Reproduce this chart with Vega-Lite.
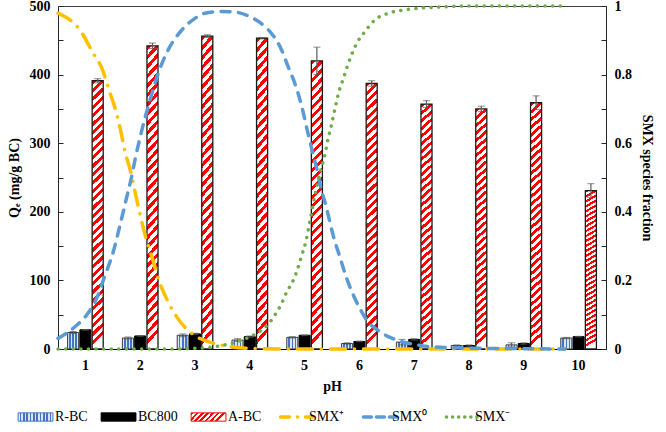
{
  "$schema": "https://vega.github.io/schema/vega-lite/v6.json",
  "width": 548,
  "height": 343,
  "autosize": "none",
  "padding": {"left": 58, "top": 6, "right": 60, "bottom": 83},
  "config": {
    "font": "Liberation Serif",
    "view": {"stroke": "#404040", "strokeWidth": 1},
    "axis": {
      "labelFont": "Liberation Serif", "titleFont": "Liberation Serif",
      "labelFontWeight": "bold", "titleFontWeight": "bold",
      "labelFontSize": 14, "titleFontSize": 14,
      "labelColor": "#000000", "titleColor": "#000000",
      "domainColor": "#262626", "tickColor": "#262626", "grid": false
    }
  },
  "params": [
    {"name": "gRB", "expr": "{gradient:'linear',x1:0,y1:0,x2:1,y2:0,stops:[{offset:0,color:'#DCE6F2'},{offset:0.047619,color:'#DCE6F2'},{offset:0.047619,color:'#4472C4'},{offset:0.095238,color:'#4472C4'},{offset:0.095238,color:'#DCE6F2'},{offset:0.142857,color:'#DCE6F2'},{offset:0.142857,color:'#4472C4'},{offset:0.190476,color:'#4472C4'},{offset:0.190476,color:'#DCE6F2'},{offset:0.238095,color:'#DCE6F2'},{offset:0.238095,color:'#4472C4'},{offset:0.285714,color:'#4472C4'},{offset:0.285714,color:'#DCE6F2'},{offset:0.333333,color:'#DCE6F2'},{offset:0.333333,color:'#4472C4'},{offset:0.380952,color:'#4472C4'},{offset:0.380952,color:'#DCE6F2'},{offset:0.428571,color:'#DCE6F2'},{offset:0.428571,color:'#4472C4'},{offset:0.47619,color:'#4472C4'},{offset:0.47619,color:'#DCE6F2'},{offset:0.52381,color:'#DCE6F2'},{offset:0.52381,color:'#4472C4'},{offset:0.571429,color:'#4472C4'},{offset:0.571429,color:'#DCE6F2'},{offset:0.619048,color:'#DCE6F2'},{offset:0.619048,color:'#4472C4'},{offset:0.666667,color:'#4472C4'},{offset:0.666667,color:'#DCE6F2'},{offset:0.714286,color:'#DCE6F2'},{offset:0.714286,color:'#4472C4'},{offset:0.761905,color:'#4472C4'},{offset:0.761905,color:'#DCE6F2'},{offset:0.809524,color:'#DCE6F2'},{offset:0.809524,color:'#4472C4'},{offset:0.857143,color:'#4472C4'},{offset:0.857143,color:'#DCE6F2'},{offset:0.904762,color:'#DCE6F2'},{offset:0.904762,color:'#4472C4'},{offset:0.952381,color:'#4472C4'},{offset:0.952381,color:'#DCE6F2'},{offset:1,color:'#DCE6F2'}]}"},
    {"name": "gAB", "expr": "{gradient:'linear',x1:0,y1:0,x2:1,y2:0.23,stops:[{offset:0,color:'#ff0000'},{offset:0.071429,color:'#ff0000'},{offset:0.071429,color:'#ffffff'},{offset:0.142857,color:'#ffffff'},{offset:0.142857,color:'#ff0000'},{offset:0.214286,color:'#ff0000'},{offset:0.214286,color:'#ffffff'},{offset:0.285714,color:'#ffffff'},{offset:0.285714,color:'#ff0000'},{offset:0.357143,color:'#ff0000'},{offset:0.357143,color:'#ffffff'},{offset:0.428571,color:'#ffffff'},{offset:0.428571,color:'#ff0000'},{offset:0.5,color:'#ff0000'},{offset:0.5,color:'#ffffff'},{offset:0.571429,color:'#ffffff'},{offset:0.571429,color:'#ff0000'},{offset:0.642857,color:'#ff0000'},{offset:0.642857,color:'#ffffff'},{offset:0.714286,color:'#ffffff'},{offset:0.714286,color:'#ff0000'},{offset:0.785714,color:'#ff0000'},{offset:0.785714,color:'#ffffff'},{offset:0.857143,color:'#ffffff'},{offset:0.857143,color:'#ff0000'},{offset:0.928571,color:'#ff0000'},{offset:0.928571,color:'#ffffff'},{offset:1,color:'#ffffff'}]}"}
  ],
  "datasets": {
    "bars": [
      {"pH": 1, "s": "R-BC", "v": 24, "e": 1.5}, {"pH": 1, "s": "BC800", "v": 28, "e": 0.5}, {"pH": 1, "s": "A-BC", "v": 391, "e": 3},
      {"pH": 2, "s": "R-BC", "v": 16, "e": 1.5}, {"pH": 2, "s": "BC800", "v": 19, "e": 0.5}, {"pH": 2, "s": "A-BC", "v": 442, "e": 4},
      {"pH": 3, "s": "R-BC", "v": 20, "e": 2}, {"pH": 3, "s": "BC800", "v": 22, "e": 1}, {"pH": 3, "s": "A-BC", "v": 456, "e": 2},
      {"pH": 4, "s": "R-BC", "v": 13, "e": 2}, {"pH": 4, "s": "BC800", "v": 18, "e": 1}, {"pH": 4, "s": "A-BC", "v": 453, "e": 1},
      {"pH": 5, "s": "R-BC", "v": 17, "e": 1}, {"pH": 5, "s": "BC800", "v": 20, "e": 0.5}, {"pH": 5, "s": "A-BC", "v": 420, "e": 20},
      {"pH": 6, "s": "R-BC", "v": 8, "e": 1}, {"pH": 6, "s": "BC800", "v": 11, "e": 0.5}, {"pH": 6, "s": "A-BC", "v": 387, "e": 4},
      {"pH": 7, "s": "R-BC", "v": 10, "e": 4}, {"pH": 7, "s": "BC800", "v": 14, "e": 1}, {"pH": 7, "s": "A-BC", "v": 357, "e": 5},
      {"pH": 8, "s": "R-BC", "v": 5, "e": 1}, {"pH": 8, "s": "BC800", "v": 5, "e": 1}, {"pH": 8, "s": "A-BC", "v": 350, "e": 4},
      {"pH": 9, "s": "R-BC", "v": 6, "e": 3}, {"pH": 9, "s": "BC800", "v": 8, "e": 1}, {"pH": 9, "s": "A-BC", "v": 359, "e": 10},
      {"pH": 10, "s": "R-BC", "v": 16, "e": 1}, {"pH": 10, "s": "BC800", "v": 18, "e": 0.5}, {"pH": 10, "s": "A-BC", "v": 231, "e": 10}
    ],
    "curves": [
      {"s": "SMX⁺", "pH": 0.5, "f": 0.979}, {"s": "SMX⁺", "pH": 0.9, "f": 0.93}, {"s": "SMX⁺", "pH": 1.14, "f": 0.863}, {"s": "SMX⁺", "pH": 1.3, "f": 0.819},
      {"s": "SMX⁺", "pH": 1.45, "f": 0.746}, {"s": "SMX⁺", "pH": 1.54, "f": 0.703}, {"s": "SMX⁺", "pH": 1.63, "f": 0.647}, {"s": "SMX⁺", "pH": 1.72, "f": 0.577},
      {"s": "SMX⁺", "pH": 1.83, "f": 0.515}, {"s": "SMX⁺", "pH": 1.91, "f": 0.455}, {"s": "SMX⁺", "pH": 2.09, "f": 0.332}, {"s": "SMX⁺", "pH": 2.22, "f": 0.265},
      {"s": "SMX⁺", "pH": 2.32, "f": 0.21}, {"s": "SMX⁺", "pH": 2.51, "f": 0.137}, {"s": "SMX⁺", "pH": 2.67, "f": 0.093}, {"s": "SMX⁺", "pH": 2.87, "f": 0.055},
      {"s": "SMX⁺", "pH": 3.04, "f": 0.035}, {"s": "SMX⁺", "pH": 3.27, "f": 0.02}, {"s": "SMX⁺", "pH": 3.69, "f": 0.006}, {"s": "SMX⁺", "pH": 4.2, "f": 0.001},
      {"s": "SMX⁺", "pH": 5, "f": 0}, {"s": "SMX⁺", "pH": 6, "f": 0}, {"s": "SMX⁺", "pH": 7, "f": 0}, {"s": "SMX⁺", "pH": 8, "f": 0}, {"s": "SMX⁺", "pH": 9, "f": 0}, {"s": "SMX⁺", "pH": 9.75, "f": 0},
      {"s": "SMX⁰", "pH": 0.5, "f": 0.031}, {"s": "SMX⁰", "pH": 0.81, "f": 0.065}, {"s": "SMX⁰", "pH": 1.05, "f": 0.105}, {"s": "SMX⁰", "pH": 1.21, "f": 0.149},
      {"s": "SMX⁰", "pH": 1.36, "f": 0.216}, {"s": "SMX⁰", "pH": 1.51, "f": 0.284}, {"s": "SMX⁰", "pH": 1.63, "f": 0.36}, {"s": "SMX⁰", "pH": 1.75, "f": 0.44},
      {"s": "SMX⁰", "pH": 1.84, "f": 0.5}, {"s": "SMX⁰", "pH": 1.91, "f": 0.555}, {"s": "SMX⁰", "pH": 2.03, "f": 0.638}, {"s": "SMX⁰", "pH": 2.18, "f": 0.726},
      {"s": "SMX⁰", "pH": 2.33, "f": 0.804}, {"s": "SMX⁰", "pH": 2.51, "f": 0.872}, {"s": "SMX⁰", "pH": 2.76, "f": 0.93}, {"s": "SMX⁰", "pH": 3.0, "f": 0.964},
      {"s": "SMX⁰", "pH": 3.18, "f": 0.979}, {"s": "SMX⁰", "pH": 3.46, "f": 0.984}, {"s": "SMX⁰", "pH": 3.69, "f": 0.983}, {"s": "SMX⁰", "pH": 4.0, "f": 0.969},
      {"s": "SMX⁰", "pH": 4.24, "f": 0.945}, {"s": "SMX⁰", "pH": 4.42, "f": 0.915}, {"s": "SMX⁰", "pH": 4.58, "f": 0.872}, {"s": "SMX⁰", "pH": 4.7, "f": 0.823},
      {"s": "SMX⁰", "pH": 4.82, "f": 0.775}, {"s": "SMX⁰", "pH": 4.95, "f": 0.706}, {"s": "SMX⁰", "pH": 5.06, "f": 0.63}, {"s": "SMX⁰", "pH": 5.15, "f": 0.571},
      {"s": "SMX⁰", "pH": 5.24, "f": 0.513}, {"s": "SMX⁰", "pH": 5.28, "f": 0.482}, {"s": "SMX⁰", "pH": 5.4, "f": 0.411}, {"s": "SMX⁰", "pH": 5.52, "f": 0.332},
      {"s": "SMX⁰", "pH": 5.65, "f": 0.265}, {"s": "SMX⁰", "pH": 5.77, "f": 0.205}, {"s": "SMX⁰", "pH": 5.89, "f": 0.157}, {"s": "SMX⁰", "pH": 6.01, "f": 0.118},
      {"s": "SMX⁰", "pH": 6.13, "f": 0.085}, {"s": "SMX⁰", "pH": 6.38, "f": 0.05}, {"s": "SMX⁰", "pH": 6.68, "f": 0.026}, {"s": "SMX⁰", "pH": 7.05, "f": 0.012},
      {"s": "SMX⁰", "pH": 7.47, "f": 0.005}, {"s": "SMX⁰", "pH": 8.2, "f": 0.002}, {"s": "SMX⁰", "pH": 8.93, "f": 0.001}, {"s": "SMX⁰", "pH": 9.75, "f": 0},
      {"s": "SMX⁻", "pH": 0.5, "f": 0}, {"s": "SMX⁻", "pH": 1, "f": 0}, {"s": "SMX⁻", "pH": 1.5, "f": 0}, {"s": "SMX⁻", "pH": 2, "f": 0}, {"s": "SMX⁻", "pH": 2.5, "f": 0},
      {"s": "SMX⁻", "pH": 3, "f": 0.002}, {"s": "SMX⁻", "pH": 3.55, "f": 0.012}, {"s": "SMX⁻", "pH": 3.94, "f": 0.031}, {"s": "SMX⁻", "pH": 4.06, "f": 0.04},
      {"s": "SMX⁻", "pH": 4.19, "f": 0.052}, {"s": "SMX⁻", "pH": 4.31, "f": 0.068}, {"s": "SMX⁻", "pH": 4.4, "f": 0.085}, {"s": "SMX⁻", "pH": 4.48, "f": 0.105},
      {"s": "SMX⁻", "pH": 4.55, "f": 0.123}, {"s": "SMX⁻", "pH": 4.61, "f": 0.143}, {"s": "SMX⁻", "pH": 4.67, "f": 0.165}, {"s": "SMX⁻", "pH": 4.75, "f": 0.187},
      {"s": "SMX⁻", "pH": 4.81, "f": 0.206}, {"s": "SMX⁻", "pH": 4.86, "f": 0.228}, {"s": "SMX⁻", "pH": 4.95, "f": 0.274}, {"s": "SMX⁻", "pH": 5.03, "f": 0.318},
      {"s": "SMX⁻", "pH": 5.1, "f": 0.375}, {"s": "SMX⁻", "pH": 5.19, "f": 0.449}, {"s": "SMX⁻", "pH": 5.28, "f": 0.513}, {"s": "SMX⁻", "pH": 5.37, "f": 0.566},
      {"s": "SMX⁻", "pH": 5.43, "f": 0.614}, {"s": "SMX⁻", "pH": 5.49, "f": 0.653}, {"s": "SMX⁻", "pH": 5.55, "f": 0.697}, {"s": "SMX⁻", "pH": 5.61, "f": 0.74},
      {"s": "SMX⁻", "pH": 5.71, "f": 0.79}, {"s": "SMX⁻", "pH": 5.83, "f": 0.847}, {"s": "SMX⁻", "pH": 5.95, "f": 0.891}, {"s": "SMX⁻", "pH": 6.1, "f": 0.925},
      {"s": "SMX⁻", "pH": 6.28, "f": 0.959}, {"s": "SMX⁻", "pH": 6.53, "f": 0.979}, {"s": "SMX⁻", "pH": 6.8, "f": 0.988}, {"s": "SMX⁻", "pH": 7.05, "f": 0.993},
      {"s": "SMX⁻", "pH": 7.47, "f": 0.997}, {"s": "SMX⁻", "pH": 8, "f": 1}, {"s": "SMX⁻", "pH": 9, "f": 1}, {"s": "SMX⁻", "pH": 9.8, "f": 1}
    ]
  },
  "layer": [
    {
      "data": {"name": "bars"},
      "encoding": {
        "x": {"field": "pH", "type": "ordinal", "scale": {"paddingInner": 0.35, "paddingOuter": 0.175},
              "axis": {"title": "pH", "labelAngle": 0, "ticks": false, "labelPadding": 9, "titlePadding": 7, "domainColor": "#000000"}},
        "xOffset": {"field": "s", "type": "nominal", "scale": {"domain": ["R-BC", "BC800", "A-BC"], "paddingInner": 0.1}},
        "y": {"field": "v", "type": "quantitative", "scale": {"domain": [0, 500], "nice": false},
              "axis": {"title": "Qₑ (mg/g BC)", "values": [0, 50, 100, 150, 200, 250, 300, 350, 400, 450, 500],
                       "labelExpr": "datum.value % 100 === 0 ? datum.label : ''", "tickSize": -5, "labelPadding": 13, "titlePadding": 8}}
      },
      "layer": [
        {"transform": [{"filter": "datum.s === 'R-BC'"}],
         "mark": {"type": "bar", "strokeWidth": 1, "stroke": "#3A3A3A",
                  "fill": {"gradient": "linear", "x1": 0, "y1": 0, "x2": 1, "y2": 0, "stops": [
                    {"offset": 0, "color": "#DCE6F2"}, {"offset": 0.142857, "color": "#DCE6F2"}, {"offset": 0.142857, "color": "#4472C4"},
                    {"offset": 0.285714, "color": "#4472C4"}, {"offset": 0.285714, "color": "#DCE6F2"}, {"offset": 0.428571, "color": "#DCE6F2"},
                    {"offset": 0.428571, "color": "#4472C4"}, {"offset": 0.571429, "color": "#4472C4"}, {"offset": 0.571429, "color": "#DCE6F2"},
                    {"offset": 0.714286, "color": "#DCE6F2"}, {"offset": 0.714286, "color": "#4472C4"}, {"offset": 0.857143, "color": "#4472C4"},
                    {"offset": 0.857143, "color": "#DCE6F2"}, {"offset": 1, "color": "#DCE6F2"}]}}},
        {"transform": [{"filter": "datum.s === 'BC800'"}],
         "mark": {"type": "bar", "fill": "#000000", "stroke": "#000000", "strokeWidth": 1}},
        {"transform": [{"filter": "datum.s === 'A-BC'"}],
         "mark": {"type": "bar", "strokeWidth": 1.3, "stroke": "#1a1a1a",
                  "fill": {"gradient": "linear", "x1": 0, "y1": 0, "x2": 0.04, "y2": 1, "stops": [
                    {"offset": 0, "color": "#ff0000"},
                    {"offset": 0.015625, "color": "#ff0000"}, {"offset": 0.015625, "color": "#ffffff"},
                    {"offset": 0.03125, "color": "#ffffff"}, {"offset": 0.03125, "color": "#ff0000"},
                    {"offset": 0.046875, "color": "#ff0000"}, {"offset": 0.046875, "color": "#ffffff"},
                    {"offset": 0.0625, "color": "#ffffff"}, {"offset": 0.0625, "color": "#ff0000"},
                    {"offset": 0.078125, "color": "#ff0000"}, {"offset": 0.078125, "color": "#ffffff"},
                    {"offset": 0.09375, "color": "#ffffff"}, {"offset": 0.09375, "color": "#ff0000"},
                    {"offset": 0.109375, "color": "#ff0000"}, {"offset": 0.109375, "color": "#ffffff"},
                    {"offset": 0.125, "color": "#ffffff"}, {"offset": 0.125, "color": "#ff0000"},
                    {"offset": 0.140625, "color": "#ff0000"}, {"offset": 0.140625, "color": "#ffffff"},
                    {"offset": 0.15625, "color": "#ffffff"}, {"offset": 0.15625, "color": "#ff0000"},
                    {"offset": 0.171875, "color": "#ff0000"}, {"offset": 0.171875, "color": "#ffffff"},
                    {"offset": 0.1875, "color": "#ffffff"}, {"offset": 0.1875, "color": "#ff0000"},
                    {"offset": 0.203125, "color": "#ff0000"}, {"offset": 0.203125, "color": "#ffffff"},
                    {"offset": 0.21875, "color": "#ffffff"}, {"offset": 0.21875, "color": "#ff0000"},
                    {"offset": 0.234375, "color": "#ff0000"}, {"offset": 0.234375, "color": "#ffffff"},
                    {"offset": 0.25, "color": "#ffffff"}, {"offset": 0.25, "color": "#ff0000"},
                    {"offset": 0.265625, "color": "#ff0000"}, {"offset": 0.265625, "color": "#ffffff"},
                    {"offset": 0.28125, "color": "#ffffff"}, {"offset": 0.28125, "color": "#ff0000"},
                    {"offset": 0.296875, "color": "#ff0000"}, {"offset": 0.296875, "color": "#ffffff"},
                    {"offset": 0.3125, "color": "#ffffff"}, {"offset": 0.3125, "color": "#ff0000"},
                    {"offset": 0.328125, "color": "#ff0000"}, {"offset": 0.328125, "color": "#ffffff"},
                    {"offset": 0.34375, "color": "#ffffff"}, {"offset": 0.34375, "color": "#ff0000"},
                    {"offset": 0.359375, "color": "#ff0000"}, {"offset": 0.359375, "color": "#ffffff"},
                    {"offset": 0.375, "color": "#ffffff"}, {"offset": 0.375, "color": "#ff0000"},
                    {"offset": 0.390625, "color": "#ff0000"}, {"offset": 0.390625, "color": "#ffffff"},
                    {"offset": 0.40625, "color": "#ffffff"}, {"offset": 0.40625, "color": "#ff0000"},
                    {"offset": 0.421875, "color": "#ff0000"}, {"offset": 0.421875, "color": "#ffffff"},
                    {"offset": 0.4375, "color": "#ffffff"}, {"offset": 0.4375, "color": "#ff0000"},
                    {"offset": 0.453125, "color": "#ff0000"}, {"offset": 0.453125, "color": "#ffffff"},
                    {"offset": 0.46875, "color": "#ffffff"}, {"offset": 0.46875, "color": "#ff0000"},
                    {"offset": 0.484375, "color": "#ff0000"}, {"offset": 0.484375, "color": "#ffffff"},
                    {"offset": 0.5, "color": "#ffffff"}, {"offset": 0.5, "color": "#ff0000"},
                    {"offset": 0.515625, "color": "#ff0000"}, {"offset": 0.515625, "color": "#ffffff"},
                    {"offset": 0.53125, "color": "#ffffff"}, {"offset": 0.53125, "color": "#ff0000"},
                    {"offset": 0.546875, "color": "#ff0000"}, {"offset": 0.546875, "color": "#ffffff"},
                    {"offset": 0.5625, "color": "#ffffff"}, {"offset": 0.5625, "color": "#ff0000"},
                    {"offset": 0.578125, "color": "#ff0000"}, {"offset": 0.578125, "color": "#ffffff"},
                    {"offset": 0.59375, "color": "#ffffff"}, {"offset": 0.59375, "color": "#ff0000"},
                    {"offset": 0.609375, "color": "#ff0000"}, {"offset": 0.609375, "color": "#ffffff"},
                    {"offset": 0.625, "color": "#ffffff"}, {"offset": 0.625, "color": "#ff0000"},
                    {"offset": 0.640625, "color": "#ff0000"}, {"offset": 0.640625, "color": "#ffffff"},
                    {"offset": 0.65625, "color": "#ffffff"}, {"offset": 0.65625, "color": "#ff0000"},
                    {"offset": 0.671875, "color": "#ff0000"}, {"offset": 0.671875, "color": "#ffffff"},
                    {"offset": 0.6875, "color": "#ffffff"}, {"offset": 0.6875, "color": "#ff0000"},
                    {"offset": 0.703125, "color": "#ff0000"}, {"offset": 0.703125, "color": "#ffffff"},
                    {"offset": 0.71875, "color": "#ffffff"}, {"offset": 0.71875, "color": "#ff0000"},
                    {"offset": 0.734375, "color": "#ff0000"}, {"offset": 0.734375, "color": "#ffffff"},
                    {"offset": 0.75, "color": "#ffffff"}, {"offset": 0.75, "color": "#ff0000"},
                    {"offset": 0.765625, "color": "#ff0000"}, {"offset": 0.765625, "color": "#ffffff"},
                    {"offset": 0.78125, "color": "#ffffff"}, {"offset": 0.78125, "color": "#ff0000"},
                    {"offset": 0.796875, "color": "#ff0000"}, {"offset": 0.796875, "color": "#ffffff"},
                    {"offset": 0.8125, "color": "#ffffff"}, {"offset": 0.8125, "color": "#ff0000"},
                    {"offset": 0.828125, "color": "#ff0000"}, {"offset": 0.828125, "color": "#ffffff"},
                    {"offset": 0.84375, "color": "#ffffff"}, {"offset": 0.84375, "color": "#ff0000"},
                    {"offset": 0.859375, "color": "#ff0000"}, {"offset": 0.859375, "color": "#ffffff"},
                    {"offset": 0.875, "color": "#ffffff"}, {"offset": 0.875, "color": "#ff0000"},
                    {"offset": 0.890625, "color": "#ff0000"}, {"offset": 0.890625, "color": "#ffffff"},
                    {"offset": 0.90625, "color": "#ffffff"}, {"offset": 0.90625, "color": "#ff0000"},
                    {"offset": 0.921875, "color": "#ff0000"}, {"offset": 0.921875, "color": "#ffffff"},
                    {"offset": 0.9375, "color": "#ffffff"}, {"offset": 0.9375, "color": "#ff0000"},
                    {"offset": 0.953125, "color": "#ff0000"}, {"offset": 0.953125, "color": "#ffffff"},
                    {"offset": 0.96875, "color": "#ffffff"}, {"offset": 0.96875, "color": "#ff0000"},
                    {"offset": 0.984375, "color": "#ff0000"}, {"offset": 0.984375, "color": "#ffffff"},
                    {"offset": 1, "color": "#ffffff"}]}}},
        {"mark": {"type": "errorbar", "ticks": {"size": 7, "color": "#595959", "strokeWidth": 1.2}, "rule": {"color": "#595959", "strokeWidth": 1.2}},
         "encoding": {"yError": {"field": "e"}}}
      ]
    },
    {
      "data": {"name": "curves"},
      "encoding": {
        "x": {"field": "pH", "type": "quantitative", "scale": {"domain": [0.5, 10.5], "nice": false, "zero": false}, "axis": null},
        "y": {"field": "f", "type": "quantitative", "scale": {"domain": [0, 1], "nice": false},
              "axis": {"orient": "right", "title": "SMX species fraction", "values": [0, 0.1, 0.2, 0.3, 0.4, 0.5, 0.6, 0.7, 0.8, 0.9, 1],
                       "labelExpr": "round(datum.value * 10) % 2 === 0 ? format(datum.value, '~g') : ''", "tickSize": -5, "labelPadding": 13, "titlePadding": 8}},
        "color": {"field": "s", "type": "nominal",
                  "scale": {"domain": ["R-BC", "BC800", "A-BC", "SMX⁺", "SMX⁰", "SMX⁻"], "range": ["#4472C4", "#000000", "#ff0000", "#FFC000", "#5B9BD5", "#70AD47"]},
                  "legend": {"orient": "none", "legendX": -22, "legendY": 404, "direction": "horizontal", "columns": 6, "title": null,
                             "symbolSize": 1100, "symbolType": "stroke", "labelFont": "Liberation Serif", "labelFontSize": 14, "labelColor": "#000000",
                             "labelOffset": 5, "columnPadding": 11, "padding": 0,
                             "encode": {"symbols": {"update": {
                               "shape": {"signal": "indexof(['R-BC','BC800','A-BC'], datum.value) >= 0 ? 'M-1.5,-0.25H0.6V0.25H-1.5Z' : 'stroke'"},
                               "fill": {"signal": "datum.value === 'R-BC' ? gRB : datum.value === 'BC800' ? '#000000' : datum.value === 'A-BC' ? gAB : 'transparent'"},
                               "stroke": {"signal": "datum.value === 'R-BC' ? '#3A4A6A' : (datum.value === 'BC800' || datum.value === 'A-BC') ? '#000000' : datum.value === 'SMX⁺' ? '#FFC000' : datum.value === 'SMX⁰' ? '#5B9BD5' : '#70AD47'"},
                               "strokeWidth": {"signal": "indexof(['R-BC','BC800','A-BC'], datum.value) >= 0 ? 1 : 3.5"},
                               "strokeDash": {"signal": "datum.value === 'SMX⁺' ? [9, 8, 0.1, 8] : datum.value === 'SMX⁰' ? [8, 5] : datum.value === 'SMX⁻' ? [0.1, 6] : [1, 0]"},
                               "strokeCap": {"signal": "indexof(['R-BC','BC800','A-BC'], datum.value) >= 0 ? 'butt' : 'round'"},
                               "opacity": {"value": 1}
                             }}}}}
      },
      "layer": [
        {"transform": [{"filter": "datum.s === 'SMX⁺'"}],
         "mark": {"type": "line", "strokeWidth": 3.5, "strokeDash": [15, 9, 0.1, 9], "strokeCap": "round", "interpolate": "monotone"}},
        {"transform": [{"filter": "datum.s === 'SMX⁰'"}],
         "mark": {"type": "line", "strokeWidth": 3.5, "strokeDash": [9, 8.5], "strokeCap": "round", "interpolate": "monotone"}},
        {"transform": [{"filter": "datum.s === 'SMX⁻'"}],
         "mark": {"type": "line", "strokeWidth": 3.5, "strokeDash": [0.1, 7.5], "strokeCap": "round", "interpolate": "monotone"}}
      ]
    }
  ],
  "resolve": {"scale": {"x": "independent", "y": "independent"}}
}
